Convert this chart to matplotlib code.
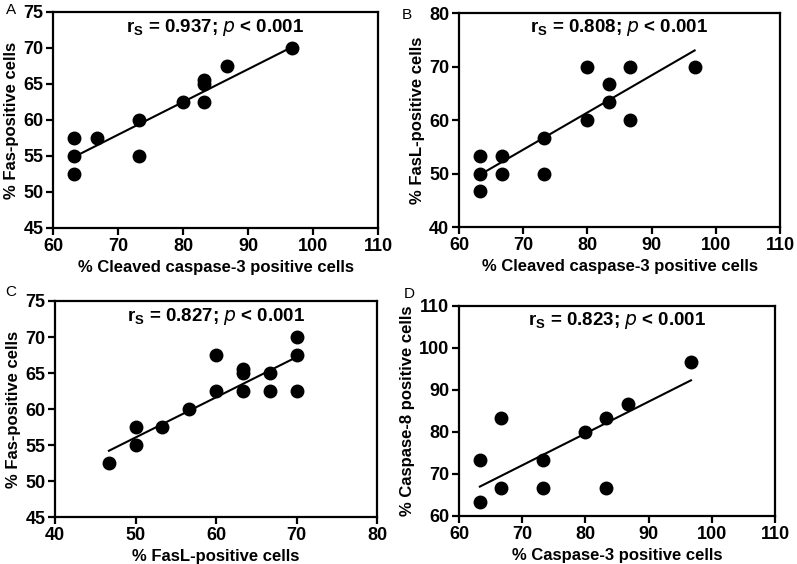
import numpy as np
import matplotlib.pyplot as plt

plt.rcParams['font.family'] = ['Liberation Sans', 'DejaVu Sans']

# Panel A: cleaved caspase-3 vs Fas
a_x = [63.3, 63.3, 63.3, 66.7, 73.3, 73.3, 80.0, 83.3, 83.3, 83.3, 86.7, 96.7]
a_y = [57.5, 55.0, 52.5, 57.5, 60.0, 55.0, 62.5, 65.5, 65.0, 62.5, 67.5, 70.0]
a_fit = [54.9, 70.1]   # regression line value at lowest / highest x

# Panel B: cleaved caspase-3 vs FasL
b_x = [63.3, 63.3, 63.3, 66.7, 66.7, 73.3, 73.3, 80.0, 80.0, 83.3, 83.3, 86.7, 86.7, 96.7]
b_y = [53.3, 50.0, 46.7, 53.3, 50.0, 56.7, 50.0, 70.0, 60.0, 66.7, 63.3, 70.0, 60.0, 70.0]
b_fit = [49.8, 73.0]

# Panel C: FasL vs Fas
c_x = [46.7, 50.0, 50.0, 53.3, 56.7, 60.0, 60.0, 63.3, 63.3, 63.3, 66.7, 66.7, 70.0, 70.0, 70.0]
c_y = [52.5, 57.5, 55.0, 57.5, 60.0, 67.5, 62.5, 65.5, 65.0, 62.5, 65.0, 62.5, 70.0, 67.5, 62.5]
c_fit = [54.2, 67.2]

# Panel D: caspase-3 vs caspase-8
d_x = [63.3, 63.3, 66.7, 66.7, 73.3, 73.3, 80.0, 83.3, 83.3, 86.7, 96.7]
d_y = [73.3, 63.3, 83.3, 66.7, 73.3, 66.7, 80.0, 83.3, 66.7, 86.7, 96.7]
d_fit = [67.0, 92.3]

panels = [
    ('A', a_x, a_y, a_fit, '% Cleaved caspase-3 positive cells', '% Fas-positive cells',
     (60, 110), (45, 75), 10, 5, 'r$_{\\mathregular{S}}$ = 0.937; $\\it{p}$ < 0.001'),
    ('B', b_x, b_y, b_fit, '% Cleaved caspase-3 positive cells', '% FasL-positive cells',
     (60, 110), (40, 80), 10, 10, 'r$_{\\mathregular{S}}$ = 0.808; $\\it{p}$ < 0.001'),
    ('C', c_x, c_y, c_fit, '% FasL-positive cells', '% Fas-positive cells',
     (40, 80), (45, 75), 10, 5, 'r$_{\\mathregular{S}}$ = 0.827; $\\it{p}$ < 0.001'),
    ('D', d_x, d_y, d_fit, '% Caspase-3 positive cells', '% Caspase-8 positive cells',
     (60, 110), (60, 110), 10, 10, 'r$_{\\mathregular{S}}$ = 0.823; $\\it{p}$ < 0.001'),
]

# axes rectangles in pixels: left, right, top, bottom
boxes = [(53, 378, 12, 228), (459, 780, 13, 227), (55, 377, 301, 517), (459, 775, 306, 516)]
letter_pos = [(6, 10), (402, 15), (5, 292), (404, 294)]

W, H = 797, 564
fig = plt.figure(figsize=(W / 100, H / 100), dpi=100)

for (letter, xs, ys, fit, xl, yl, xlim, ylim, xstep, ystep, txt), (l, r, t, b), (lx, ly) in zip(panels, boxes, letter_pos):
    ax = fig.add_axes([l / W, 1 - b / H, (r - l) / W, (b - t) / H])
    ax.plot(xs, ys, 'o', color='black', markersize=9)
    ax.plot([min(xs), max(xs)], fit, color='black', linewidth=1.5)
    ax.set_xlim(*xlim)
    ax.set_ylim(*ylim)
    ax.set_xticks(np.arange(xlim[0], xlim[1] + 1, xstep))
    ax.set_yticks(np.arange(ylim[0], ylim[1] + 1, ystep))
    for s in ax.spines.values():
        s.set_linewidth(1.6)
    ax.tick_params(direction='out', length=5, width=1.6, labelsize=13, pad=2)
    for lab in ax.get_xticklabels() + ax.get_yticklabels():
        lab.set_fontweight('bold')
    ax.set_xlabel(xl, fontsize=12, fontweight='bold', labelpad=4)
    ax.set_ylabel(yl, fontsize=12, fontweight='bold', labelpad=3)
    ax.text(0.5, 0.93, txt, transform=ax.transAxes, ha='center', va='center',
            fontsize=13.5, fontweight='bold')
    fig.text(lx / W, 1 - ly / H, letter, fontsize=11, ha='left', va='center')

fig.savefig('out.png', dpi=100)
